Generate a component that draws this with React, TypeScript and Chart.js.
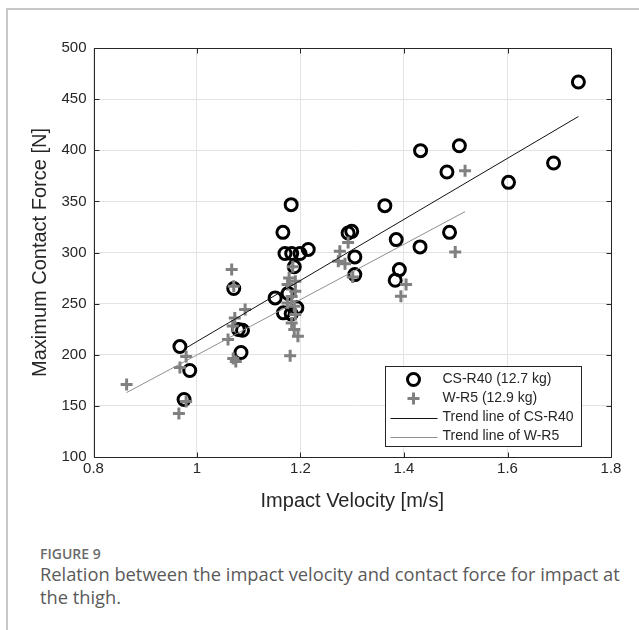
import React, { useEffect, useRef } from "react";
import { Chart, registerables } from "chart.js";
Chart.register(...registerables);

// CS-R40 (12.7 kg): impact velocity [m/s] and maximum contact force [N]
const csVelocity = [1.737, 1.689, 1.602, 1.507, 1.483, 1.488, 1.432, 1.431, 1.363, 1.385, 1.391, 1.383, 1.292, 1.299, 1.305, 1.305, 1.215, 1.199, 1.183, 1.170, 1.182, 1.166, 1.188, 1.151, 1.167, 1.182, 1.193, 1.176, 1.071, 1.080, 1.088, 1.085, 0.967, 0.986, 0.975];
const csForce = [466.7, 387.5, 368.6, 404.4, 378.7, 319.7, 399.6, 305.5, 345.8, 312.6, 283.3, 272.8, 319.1, 320.7, 295.7, 278.4, 303, 299, 299, 299, 346.8, 319.7, 286, 255.6, 241, 240, 245.9, 260, 264.8, 224.7, 224, 202.2, 208, 184.6, 156.3];

// W-R5 (12.9 kg)
const wrVelocity = [1.518, 1.499, 1.404, 1.394, 1.292, 1.276, 1.273, 1.286, 1.301, 1.185, 1.178, 1.190, 1.175, 1.190, 1.183, 1.175, 1.188, 1.190, 1.183, 1.188, 1.195, 1.180, 1.067, 1.071, 1.093, 1.073, 1.069, 1.060, 1.070, 1.075, 0.979, 0.967, 0.864, 0.979, 0.965];
const wrForce = [380, 300.6, 268.6, 257.2, 309.9, 301.2, 291.4, 289.1, 276, 286, 275, 272, 268.6, 262, 257, 250.7, 247.4, 239.3, 231, 224.7, 218, 199, 283.3, 267, 244.3, 236, 228, 215, 196.3, 193.4, 198.3, 187.5, 171, 154.3, 142.5];

// Trend lines (end points)
const csTrendVelocity = [0.98, 1.737];
const csTrendForce = [207, 433];
const wrTrendVelocity = [0.864, 1.518];
const wrTrendForce = [163, 340];

const xTicks = [0.8, 1.0, 1.2, 1.4, 1.6, 1.8];
const yTicks = [100, 150, 200, 250, 300, 350, 400, 450, 500];
const seriesLabels = ["CS-R40 (12.7 kg)", "W-R5 (12.9 kg)", "Trend line of CS-R40", "Trend line of W-R5"];

const FONT = "'Liberation Sans', Arial, Helvetica, sans-serif";
const AXIS_COLOR = "#262626";
const CROSS_COLOR = "#808080";
const WR_TREND_COLOR = "#8f8f8f";

const toPoints = (xs: number[], ys: number[]) => xs.map((x, i) => ({ x, y: ys[i] }));

const boxPlugin = {
  id: "matlabBox",
  afterDatasetsDraw(chart: any) {
    const { ctx, chartArea: a, scales } = chart;
    ctx.save();
    ctx.strokeStyle = AXIS_COLOR;
    ctx.lineWidth = 1;
    const L = Math.round(a.left) + 0.5;
    const R = Math.round(a.right) + 0.5;
    const T = Math.round(a.top) + 0.5;
    const B = Math.round(a.bottom) + 0.5;
    ctx.beginPath();
    ctx.rect(L, T, R - L, B - T);
    const tl = 5;
    xTicks.forEach((v) => {
      const x = Math.round(scales.x.getPixelForValue(v)) + 0.5;
      ctx.moveTo(x, B); ctx.lineTo(x, B - tl);
      ctx.moveTo(x, T); ctx.lineTo(x, T + tl);
    });
    yTicks.forEach((v) => {
      const y = Math.round(scales.y.getPixelForValue(v)) + 0.5;
      ctx.moveTo(L, y); ctx.lineTo(L + tl, y);
      ctx.moveTo(R, y); ctx.lineTo(R - tl, y);
    });
    ctx.stroke();

    // legend
    const lx = Math.round(a.right - 226) + 0.5;
    const ly = Math.round(a.bottom - 91) + 0.5;
    const lw = 196;
    const lh = 80;
    ctx.fillStyle = "#ffffff";
    ctx.fillRect(lx, ly, lw, lh);
    ctx.strokeStyle = AXIS_COLOR;
    ctx.lineWidth = 1;
    ctx.strokeRect(lx, ly, lw, lh);
    const mx = lx + 28;
    const rows = [13, 32, 51, 70].map((d) => ly + d);
    ctx.beginPath();
    ctx.lineWidth = 3;
    ctx.strokeStyle = "#000";
    ctx.arc(mx, rows[0], 6, 0, Math.PI * 2);
    ctx.stroke();
    ctx.beginPath();
    ctx.strokeStyle = CROSS_COLOR;
    ctx.moveTo(mx - 6, rows[1]); ctx.lineTo(mx + 6, rows[1]);
    ctx.moveTo(mx, rows[1] - 6); ctx.lineTo(mx, rows[1] + 6);
    ctx.stroke();
    ctx.lineWidth = 1;
    ctx.beginPath();
    ctx.strokeStyle = "#111";
    ctx.moveTo(lx + 5, Math.round(rows[2]) + 0.5); ctx.lineTo(lx + 52, Math.round(rows[2]) + 0.5);
    ctx.stroke();
    ctx.beginPath();
    ctx.strokeStyle = WR_TREND_COLOR;
    ctx.moveTo(lx + 5, Math.round(rows[3]) + 0.5); ctx.lineTo(lx + 52, Math.round(rows[3]) + 0.5);
    ctx.stroke();
    ctx.fillStyle = AXIS_COLOR;
    ctx.font = `14px ${FONT}`;
    ctx.textBaseline = "middle";
    ctx.textAlign = "left";
    seriesLabels.forEach((t, i) => ctx.fillText(t, lx + 57, rows[i]));
    ctx.restore();
  },
};

export default function App() {
  const ref = useRef<HTMLCanvasElement | null>(null);
  useEffect(() => {
    if (!ref.current) return;
    const chart = new Chart(ref.current, {
      type: "scatter",
      data: {
        datasets: [
          {
            label: seriesLabels[0],
            data: toPoints(csVelocity, csForce),
            pointStyle: "circle",
            pointRadius: 6,
            pointBorderWidth: 3,
            borderColor: "#000",
            backgroundColor: "rgba(0,0,0,0)",
            order: 4,
          },
          {
            label: seriesLabels[1],
            data: toPoints(wrVelocity, wrForce),
            pointStyle: "cross",
            pointRadius: 6,
            pointBorderWidth: 3,
            borderColor: CROSS_COLOR,
            backgroundColor: CROSS_COLOR,
            order: 3,
          },
          {
            label: seriesLabels[2],
            data: toPoints(csTrendVelocity, csTrendForce),
            showLine: true,
            pointRadius: 0,
            borderWidth: 1,
            borderColor: "#111",
            order: 2,
          },
          {
            label: seriesLabels[3],
            data: toPoints(wrTrendVelocity, wrTrendForce),
            showLine: true,
            pointRadius: 0,
            borderWidth: 1,
            borderColor: WR_TREND_COLOR,
            order: 1,
          },
        ],
      },
      options: {
        animation: false,
        responsive: false,
        maintainAspectRatio: false,
        layout: { padding: { top: 48, right: 28, left: 0, bottom: 0 } },
        plugins: { legend: { display: false }, tooltip: { enabled: false } },
        scales: {
          x: {
            type: "linear",
            min: 0.8,
            max: 1.8,
            afterBuildTicks: (s: any) => { s.ticks = xTicks.map((v) => ({ value: v })); },
            afterFit: (s: any) => { s.height = 73; },
            ticks: {
              callback: (v: any) => String(Number(Number(v).toFixed(1))),
              font: { family: FONT, size: 15 },
              color: AXIS_COLOR,
              padding: 3,
              maxRotation: 0,
            },
            grid: { color: "#e3e3e3", drawTicks: false },
            border: { display: false },
            title: {
              display: true,
              text: "Impact Velocity [m/s]",
              font: { family: FONT, size: 20 },
              color: AXIS_COLOR,
              padding: { top: 0, bottom: 17 },
            },
          },
          y: {
            type: "linear",
            min: 100,
            max: 500,
            afterBuildTicks: (s: any) => { s.ticks = yTicks.map((v) => ({ value: v })); },
            afterFit: (s: any) => { s.width = 93.5; },
            ticks: {
              font: { family: FONT, size: 15 },
              color: AXIS_COLOR,
              padding: 7,
            },
            grid: { color: "#e3e3e3", drawTicks: false },
            border: { display: false },
            title: {
              display: true,
              text: "Maximum Contact Force [N]",
              font: { family: FONT, size: 20 },
              color: AXIS_COLOR,
              padding: { top: 28, bottom: 0 },
            },
          },
        },
      },
      plugins: [boxPlugin],
    } as any);
    return () => chart.destroy();
  }, []);

  return (
    <div style={{ position: "absolute", left: 0, top: 0, width: 639, height: 630, overflow: "hidden", background: "#fff" }}>
      <div style={{ position: "absolute", left: 6, top: 8, width: 800, height: 800, borderTop: "2px solid #c8c8c8", borderLeft: "2px solid #c8c8c8" }} />
      <canvas ref={ref} width={639} height={530} style={{ position: "absolute", left: 0, top: 0, width: 639, height: 530 }} />
      <div style={{ position: "absolute", left: 40, top: 545, fontFamily: "'Open Sans', sans-serif", fontSize: 14, fontWeight: 600, color: "#6b6b6b", lineHeight: "18px" }}>
        FIGURE 9
      </div>
      <div style={{ position: "absolute", left: 40, top: 562, width: 595, fontFamily: "'Open Sans', sans-serif", fontSize: 18.3, color: "#5a5a5a", lineHeight: "23px", whiteSpace: "nowrap" }}>
        Relation between the impact velocity and contact force for impact at<br />the thigh.
      </div>
    </div>
  );
}
